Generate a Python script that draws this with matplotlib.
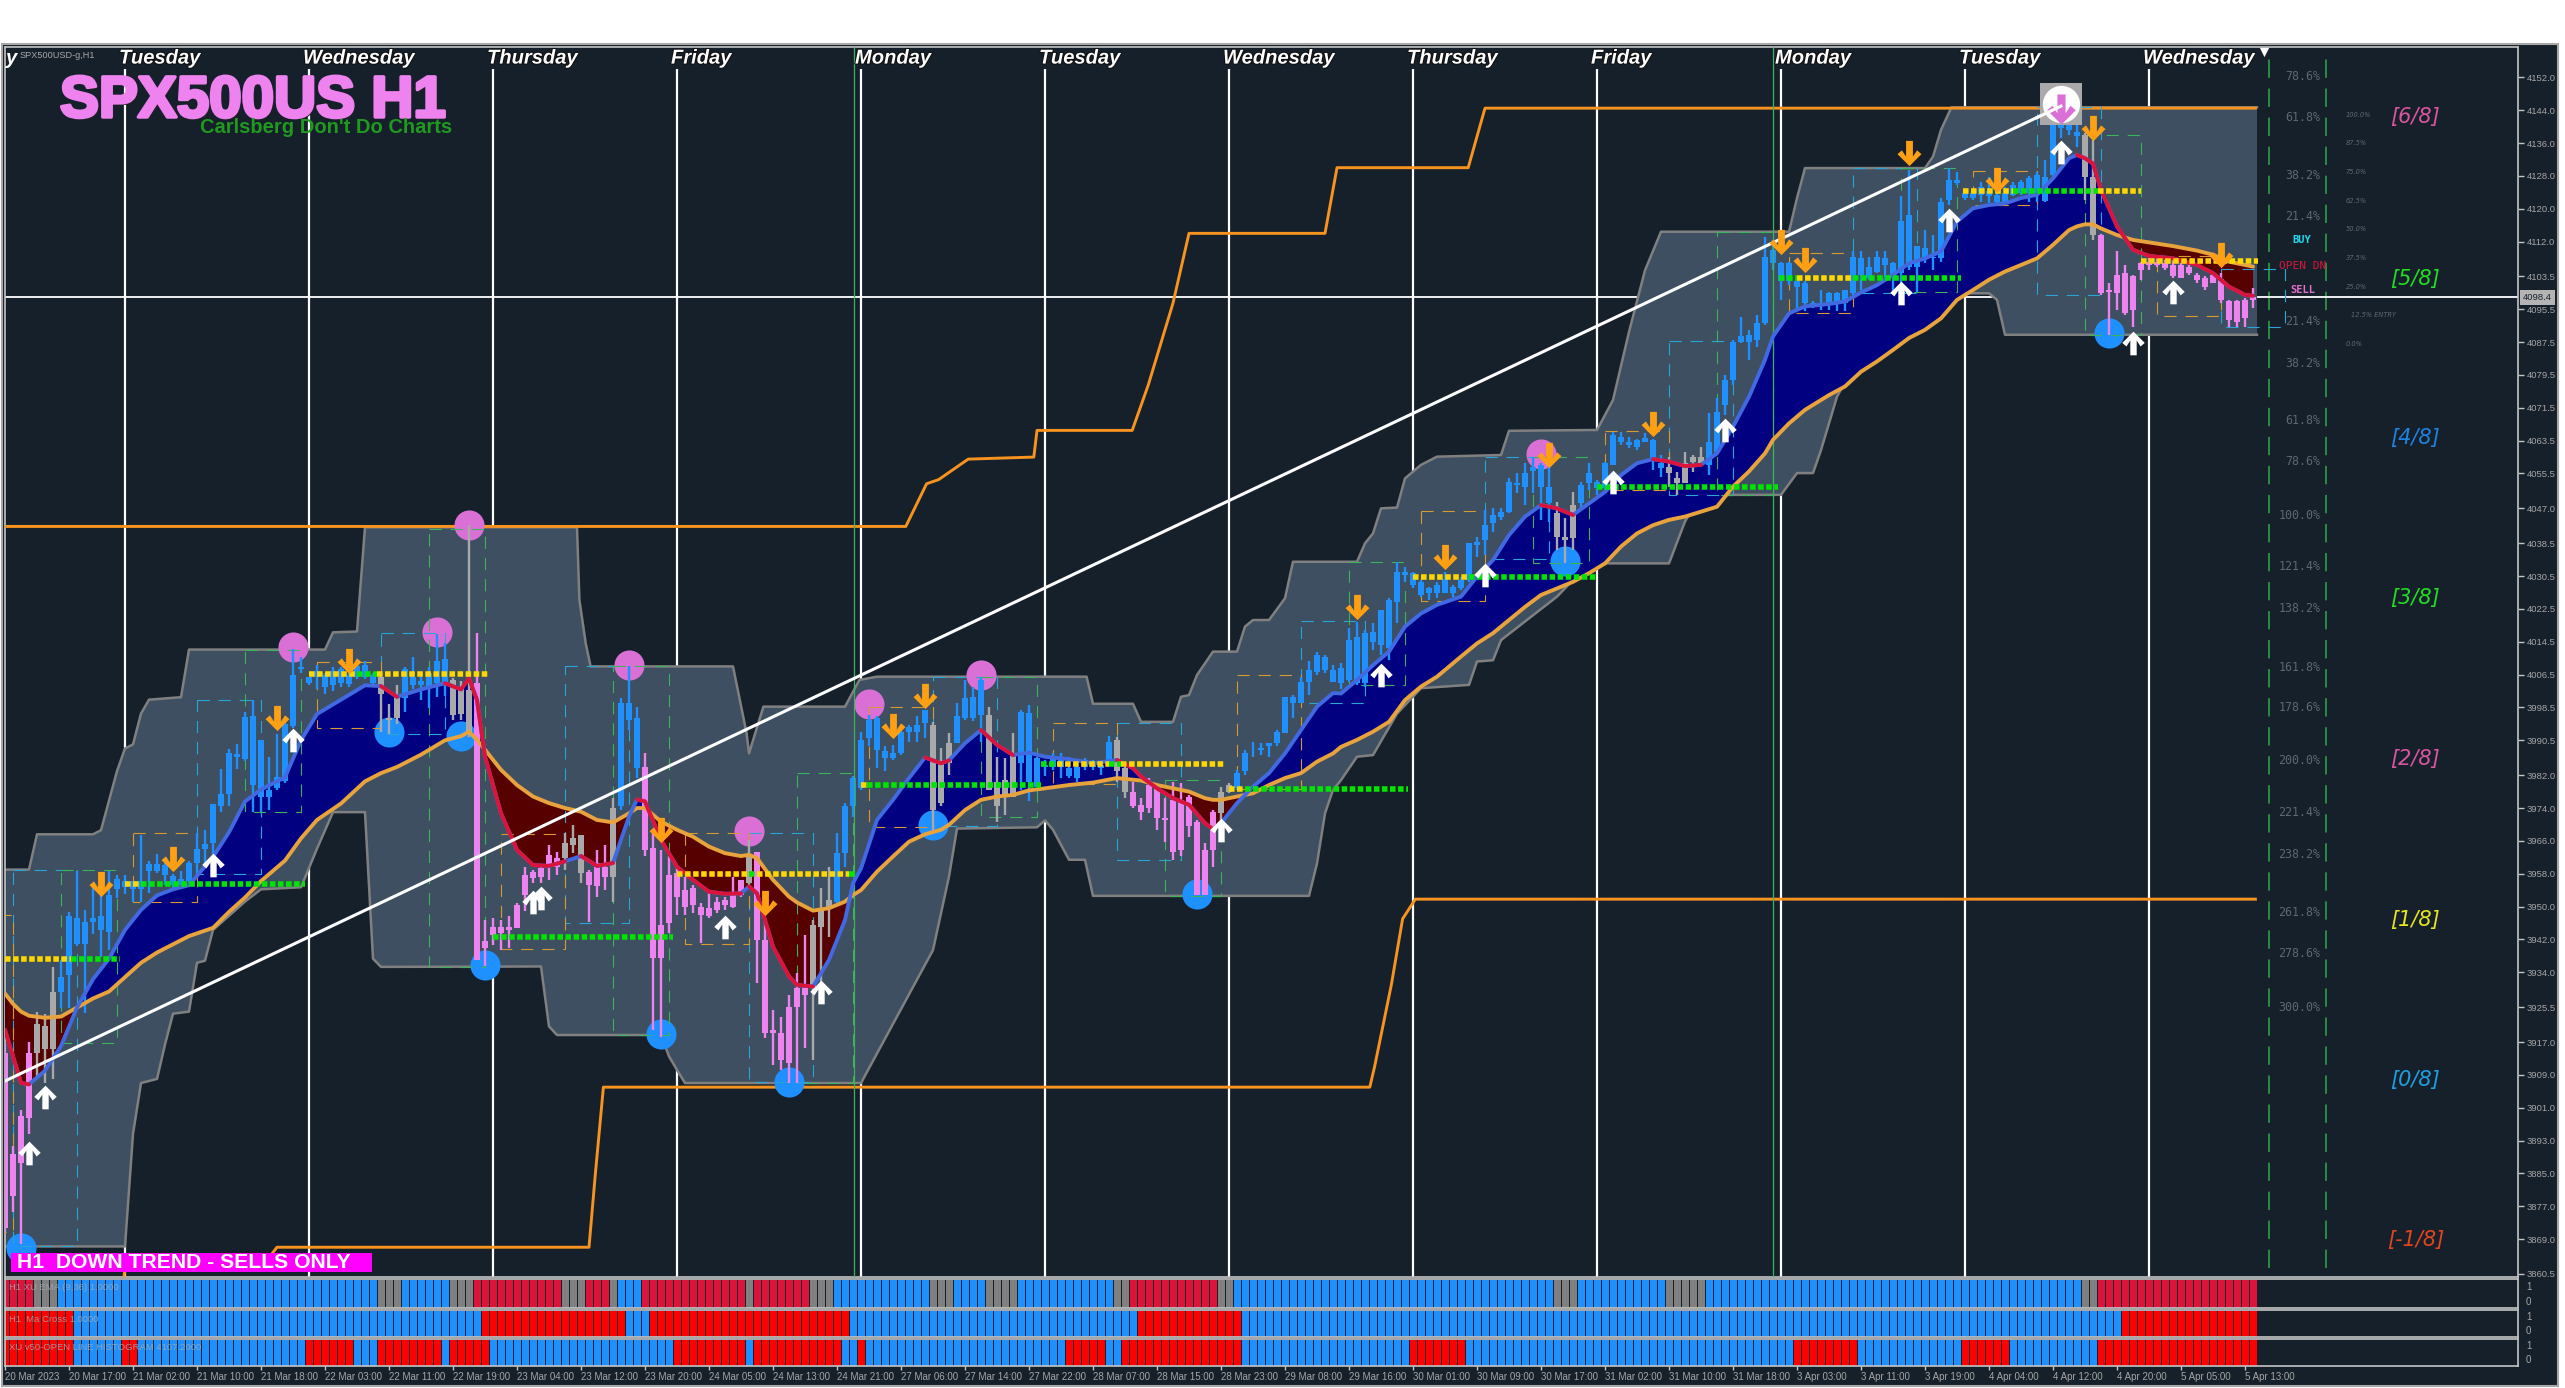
import numpy as np
import matplotlib
matplotlib.use("Agg")
import matplotlib.pyplot as plt
import matplotlib.patheffects as pe
from matplotlib.path import Path

W, H = 2565, 1388
BG = "#16202b"
NARROW = "Liberation Sans"

# candles, bar by bar
candle_high = [
    3916.4,3891.6,3900.5,3917,3924.4,3923.9,3935.3,3937,3948.7,3958.7,
    3949.2,3955.2,3955,3958.7,3957.7,3957.7,3956.2,3967.4,3961,3962.7,
    3960.7,3958,3958.7,3961.2,3968,3968.6,3975,3983.5,3988.5,3989.5,
    3997.4,4000.4,3990.5,3986.5,3992,3995,4012.8,4010.8,4006,4008.9,
    4006.9,4008.4,4008.4,4008.4,4009.4,4009.9,4006.9,4006.9,3999.4,4003.9,
    4008.4,4010.9,4005.9,4008.4,4016.3,4014.3,4005.6,4005,4043,4016.6,
    3946.7,3947.1,3946.7,3947.6,3950.8,3959.7,3958.9,3960.1,3965,3963.4,
    3967.9,3969.9,3967.5,3958.9,3963.8,3965,3976.4,4000.7,4008.5,3998.7,
    3987.3,3967.9,3963.8,3962.2,3960.1,3957.3,3955.3,3950.8,3953.6,3952.4,
    3952.4,3957.3,3956.5,3966.2,3963.4,3946.7,3924.8,3923.2,3928.5,3933.7,
    3943.1,3946.7,3954.5,3959.7,3967.9,3975.2,3981.7,3992.6,3996.7,3996.3,
    3989,3989.4,3993.8,3994.2,3996.3,3997.9,3995,3988.6,3992.2,3999.5,
    4005.2,4003.6,4005.6,3998.7,3986.5,3986.1,3992.2,3997.9,3999.1,3986.5,
    3985.7,3987.3,3987.3,3986.5,3984.5,3986.1,3985.7,3985.3,3991.6,3991.4,
    3984.1,3980.4,3976.4,3981.3,3979.2,3976.4,3980.4,3980,3977.2,3971.1,
    3965.4,3973.5,3979.2,3980.2,3983.3,3988.2,3990.2,3989.8,3989.8,3992.9,
    4001.1,4001.6,4006,4009.7,4012.1,4011.3,4008.9,4009.3,4017.8,4019.4,
    4017.4,4019,4022.2,4025.1,4034,4032.8,4031.6,4029.5,4027.9,4029.1,
    4031.6,4028.3,4030.4,4038.5,4040.1,4046.6,4047,4047,4054.3,4055.5,
    4058,4059.6,4058,4058,4048.6,4044.6,4051.1,4053.5,4058,4053.9,
    4058.4,4065.7,4065.7,4064.5,4064,4065.3,4064,4060,4059.6,4055.9,
    4060.8,4060,4062,4070.2,4073.8,4079.5,4088,4093.7,4090.5,4094.1,
    4113.2,4112.4,4107.1,4107.1,4103,4102.3,4097.4,4100.2,4099.8,4099.6,
    4100.2,4109.6,4109.6,4108.3,4109.6,4109.8,4107.1,4123,4129.5,4110.8,
    4114.8,4113.6,4122.6,4129.9,4129,4124.7,4124.6,4126.6,4127.8,4128.6,
    4125.4,4126.6,4127,4128,4129,4131.9,4141.6,4143.2,4142.4,4141.2,
    4138.4,4136.7,4113.8,4101.8,4109.6,4106.3,4103.9,4107.1,4107.9,4107.9,
    4107.9,4107.9,4106.7,4106.3,4104.3,4103.5,4104.3,4104.3,4097.8,4097.8,4098.2,4100.6,
]
candle_top = [
    3914.4,3889.6,3899,3914.4,3921.4,3921,3929.3,3932.8,3947.7,3947.2,
    3946.2,3947.2,3947.7,3952.7,3956.7,3956.2,3956.2,3956.2,3960.4,3960.4,
    3960.2,3957.4,3956.7,3960.7,3963.9,3965.3,3975,3977.3,3987.5,3987.2,
    3996.1,3996.4,3990.5,3978.5,3981.5,3994.5,4006.4,4008.4,4005.9,4007.4,
    4006.4,4007.4,4007.9,4006.4,4008.7,4008.9,4006.4,4005.9,3996,4001.4,
    4007.9,4005.9,4005,4006.9,4009.9,4010.3,4005.2,4003.6,4002.8,4004.4,
    3941.5,3945.1,3945.1,3945.1,3950.4,3957.7,3958.5,3959.3,3962.6,3961.8,
    3965.4,3966.6,3967.4,3958.5,3960.6,3959.7,3974,3999.5,3999.5,3995.9,
    3984.1,3964.2,3945.5,3957.7,3958.1,3954,3954.5,3950,3949.6,3951.2,
    3951.6,3953.2,3956.5,3962.2,3963.4,3941.9,3920,3919.1,3925.6,3930.1,
    3930.1,3945.5,3949.2,3951.6,3963,3974.4,3981.3,3990.6,3995.5,3995.9,
    3987.8,3987.3,3992.6,3993.8,3994.2,3997.9,3994.2,3984.9,3989.8,3996.3,
    4000.7,4001.1,4005.2,3996.7,3980.4,3980.9,3986.9,3997.5,3997.1,3986.1,
    3984.5,3986.5,3986.5,3983.7,3984.1,3985.7,3985.3,3984.5,3990.2,3990.6,
    3983.7,3978,3974.8,3979.6,3978.8,3971.5,3976,3976,3976.8,3970.7,
    3963.8,3973.1,3978,3979.6,3982.5,3987.3,3987.5,3988.6,3989.8,3992.4,
    4001,4001.1,4004.8,4007.6,4011.3,4010.9,4007.6,4008,4014.9,4015.7,
    4016.6,4017,4022.2,4024.7,4031.6,4031.6,4031.2,4029.1,4027.5,4028.3,
    4029.9,4027.9,4029.6,4038.5,4038.9,4042.9,4045.4,4046,4053.5,4053.1,
    4055.5,4057.2,4057.6,4052.3,4045.8,4040.1,4047.8,4052.7,4055.5,4053.5,
    4058,4064.9,4064.5,4063.2,4063.7,4064.1,4063.7,4058,4057.2,4054.3,
    4058,4059.6,4059.6,4063.2,4070.6,4078.3,4087.6,4088.9,4089.3,4092.1,
    4108.3,4110,4106.7,4106.7,4102.3,4101.8,4097,4097,4099.4,4099.4,
    4100.2,4108.3,4107.9,4105.9,4108.3,4107.9,4106.7,4116.9,4118.5,4110.8,
    4110.4,4108.3,4121.7,4127,4127,4123.8,4123.8,4125.4,4124.2,4123.4,
    4123.8,4125.8,4126.6,4127.4,4128.2,4127.8,4140.4,4141.6,4141.2,4138.8,
    4138,4127.8,4113.6,4100.2,4103.9,4104.3,4103.5,4106.7,4107.1,4107.1,
    4106.7,4106.3,4106.3,4105.9,4103.9,4103.1,4103.9,4103,4097.4,4097.4,4097.8,4098.6,
]
candle_bot = [
    3871.7,3879.6,3887.6,3898.5,3914.4,3915.4,3915.4,3929.3,3933.3,3940.8,
    3940.8,3946.2,3944.3,3943.8,3954.2,3954.7,3954.2,3954.2,3958.7,3958.7,
    3957.7,3955.2,3955.2,3956.2,3960.7,3963.9,3965.6,3974.6,3977.3,3986.5,
    3986,3979.5,3976.6,3976.6,3979,3980.5,3994,4007.9,4004.4,4005.9,
    4003.4,4003.9,4004.4,4004.1,4005.9,4005.9,4004.4,4001.9,3995.4,3995.9,
    4000.9,4003.9,4003.9,4003.4,4004.4,4004.4,3996.7,3997,3992.2,3937,
    3939.8,3943.1,3943.5,3944.3,3944.7,3952.8,3956.9,3957.3,3960.1,3959.7,
    3961.8,3965,3958.1,3955.3,3954.9,3957.3,3957.3,3974.4,3995.5,3983.7,
    3963.8,3937.4,3937.4,3945.9,3952.4,3950,3950.4,3948,3947.6,3949.2,
    3950.4,3950,3952.8,3955.7,3941.9,3919.1,3919.1,3912.6,3911.8,3925.6,
    3928.5,3930.5,3945.1,3950,3951.2,3963,3974.4,3978.8,3991,3988.2,
    3986.1,3986.1,3987.3,3992.6,3992.6,3994.7,3973.5,3975.2,3984.9,3989.8,
    3995.9,3995.9,3996.7,3978.4,3974.4,3976.8,3976.8,3984.9,3980.4,3979.2,
    3984.1,3984.1,3984.1,3981.7,3981.3,3984.1,3984.1,3983.7,3985.3,3982.9,
    3978,3974.4,3973.1,3974,3971.5,3971.1,3963.4,3963.8,3969.5,3952.8,
    3952.8,3963.8,3972.7,3978,3978.8,3982.9,3987.3,3988.2,3989,3989.8,
    3992.2,3999.5,3999.5,4004.8,4007.2,4007.6,4004.8,4004.4,4005.2,4004.4,
    4004.4,4014.5,4013.7,4012.9,4024.3,4030.8,4028.3,4025.9,4026.3,4026.3,
    4026.3,4026.3,4027.5,4029.6,4038.1,4039.3,4043.4,4045,4046,4052.7,
    4052.3,4056,4052.3,4048.2,4040.1,4039.3,4039.7,4048.2,4053.1,4051.9,
    4051.9,4057.6,4063.2,4062.4,4062,4063.2,4058.8,4056.8,4055.5,4053.1,
    4053.1,4058.4,4058,4057.6,4060.8,4072.2,4078.3,4087.6,4087.6,4088,
    4092.1,4106.7,4102.3,4102.3,4101,4097,4096.6,4096.6,4096.6,4097,
    4097,4099.4,4103.9,4103.1,4104.7,4106.3,4103.9,4104.3,4105.9,4105.9,
    4108.3,4107.9,4107.9,4122.1,4126.2,4122.6,4122.6,4123.4,4123,4121.7,
    4121.7,4123.4,4123.8,4123.8,4123.8,4122,4128.2,4139.6,4139.2,4137.6,
    4127.8,4113.6,4099.4,4099.8,4099.4,4094.5,4095.4,4105.1,4106.3,4106.3,
    4105.5,4103.5,4103.1,4104.3,4102.7,4101,4101.8,4097.8,4092.9,4092.5,4093.3,4097.8,
]
candle_low = [
    3870.7,3875.7,3867.7,3894.6,3908,3907,3908,3925.4,3925.4,3940.3,
    3924,3943.3,3937.8,3939.3,3952.2,3953,3951.2,3951.2,3953.2,3958.2,
    3955.2,3954.2,3954.2,3954.7,3957.7,3960,3962.6,3973,3974.6,3983.5,
    3985.5,3973,3973,3973.6,3978.5,3980,3993.5,4006.9,4003.9,4002.9,
    4001.9,4002.4,4003.4,4003.4,4005.4,4005.4,4003.9,3992.5,3992,3994.4,
    3997.4,4002.9,4000.4,3998.4,4001,4001.4,3995.5,3995.5,3991.4,3937,
    3935.4,3940.7,3939.4,3939.8,3944.7,3949,3955.7,3955.7,3956.5,3957.7,
    3958.9,3963,3955.7,3946.3,3952.4,3954.1,3951.2,3973.5,3993,3981.3,
    3962.2,3920,3918.3,3943.5,3948,3948,3948.4,3941.1,3947.2,3948.4,
    3949.2,3949.6,3952.4,3954.9,3931.3,3917.9,3911.4,3910.2,3907,3907,
    3915.5,3912.6,3931.3,3942.7,3950.8,3959.7,3971.9,3978.4,3989,3983.7,
    3982.9,3985.7,3986.9,3990.2,3990.2,3991,3968.7,3974.4,3982,3989.8,
    3995.5,3995.1,3990.2,3978.4,3970.7,3972.3,3976.8,3978.4,3975.6,3979.2,
    3981.7,3983.3,3981.3,3981.3,3980.4,3983.3,3983.3,3982.1,3984.9,3980.4,
    3976.4,3973.9,3971.1,3972.7,3968.7,3965.8,3961.4,3962.2,3967,3952.8,
    3952.8,3959.7,3967.5,3977.6,3978.4,3982,3986.5,3986.9,3986.5,3989,
    3992.2,3995.9,3999.5,4001.6,4006.4,4006.8,4004.8,4003.1,4004.8,4004,
    4003.6,4012.5,4011.3,4010.1,4019,4029.1,4027.5,4025.5,4024.7,4025.1,
    4026.3,4025.5,4027.1,4029.1,4035.2,4035.6,4041.3,4044.2,4045.8,4050.7,
    4047.8,4050.7,4044.2,4043.8,4036.9,4033.6,4036.9,4047,4051.5,4050.3,
    4051.5,4057.6,4062.4,4061.6,4061.2,4063.2,4056.3,4054.7,4052.3,4050.3,
    4053.1,4055.9,4057.6,4055.1,4060.8,4069.8,4077.1,4087.2,4083.2,4086.4,
    4091.7,4105.1,4097.8,4101.4,4095.4,4095,4095.8,4095.4,4095.4,4095,
    4095,4099,4100.2,4102.7,4104.3,4102.7,4099.4,4101.8,4105.1,4099.8,
    4106.7,4105.1,4107.1,4120.9,4125.8,4122.1,4122.1,4121.7,4121.3,4120.9,
    4121.3,4123,4123.4,4121.7,4121.7,4121.7,4127.8,4137.2,4138,4135.1,
    4122.1,4112.4,4099,4089.3,4095.4,4094.1,4091.3,4102.7,4105.1,4105.9,
    4105.1,4103.1,4103.1,4103.9,4101.8,4100.2,4101.8,4097,4091.3,4091.3,4091.3,4095.8,
]

# histogram strips as (state, number of bars); the candles share the first strip's colours
strip1_state = "rgbgbgrgrgbrgrgbgbgbgrgbgbgbgr"
strip1_count = [4,3,40,3,6,3,11,3,3,1,3,13,1,7,3,12,3,4,4,12,2,11,2,40,3,11,5,47,2,20]
strip2_state = "rbrbrbrbr"
strip2_count = [9,51,18,3,25,36,13,110,17]
strip3_state = "rbrbrbrbrbrbrbrbrbrbrbrbrbr"
strip3_count = [9,6,2,21,6,3,8,1,5,23,9,1,11,2,1,25,5,2,15,21,7,41,8,13,6,11,20]
strip_names = ["H1 XU EMA (9,36) 1.0000", "H1  Ma Cross 1.0000", "XU v50-OPEN LINE HISTOGRAM 4107.2000"]

# moving averages
ma_bar = [0,1,2,3,5,7,9,11,13,15,17,19,21,23,26,28,30,32,35,37,39,42,45,47,49,52,55,57,58,59,60,62,64,66,68,70,72,74,76,78,79,80,82,84,86,88,90,92,93,94,96,98,99,101,103,105,106,107,109,111,113,115,117,118,120,122,124,126,128,130,133,136,139,141,142,144,146,148,150,151,152,154,156,158,160,162,164,166,167,169,171,173,175,177,179,182,184,186,188,190,192,194,196,198,200,202,204,206,208,210,212,214,216,218,220,221,223,225,228,230,232,234,236,238,240,242,244,246,248,250,252,254,256,258,259,260,261,262,264,266,268,271,274,276,278,280,281]
ma_fast = [3919.9,3913.5,3907,3906.7,3910,3916,3925.4,3932.3,3937.3,3944.3,3949.2,3952.7,3954.2,3955.2,3962.1,3968.1,3975.6,3978.5,3981.5,3990.5,3996.9,4000.4,4003.9,4003.7,4001.1,4002.9,4004.4,4002.9,4005.6,4000.3,3986.5,3972.7,3963.8,3960.1,3959.9,3961,3962.3,3959.9,3960.6,3971.9,3976.1,3975.6,3966.2,3959.7,3956.5,3953.6,3953.1,3953.2,3954.9,3953.2,3940.2,3933,3930.9,3930.5,3937,3946.7,3955.7,3959.3,3971.1,3976,3981.3,3986.3,3984.9,3985.6,3989.8,3993,3989.4,3986.9,3987.5,3986.5,3985.9,3984.9,3985.7,3983.7,3981.7,3978.8,3976.4,3974.8,3970.3,3968.8,3970.3,3975.2,3979.2,3982.5,3987.3,3993,3998.7,4002,4001.9,4005.2,4008.8,4012.1,4018.2,4021.4,4023.5,4025.5,4030.4,4034.4,4040.5,4045,4047.8,4047,4045.4,4048.2,4051,4055.1,4058,4059,4058.4,4057.3,4057.6,4060.4,4066.9,4074.2,4083.2,4088.9,4094.5,4096.2,4096.8,4097.4,4099.6,4101.4,4103.9,4106.7,4107.9,4109.6,4116.9,4120.1,4120.9,4121.3,4122.6,4123.4,4127.4,4132.3,4133.1,4132.3,4131,4124.6,4115.7,4110,4108.5,4107.9,4106.3,4104.3,4101,4099,4098.8]
ma_slow = [3928.8,3926.3,3924.4,3923.4,3922.9,3923.2,3925.4,3927.6,3929.3,3932.8,3936.3,3938.8,3940.8,3942.8,3944.8,3948.7,3952.2,3956.2,3961.2,3966.6,3971.1,3975.1,3980.5,3982.5,3984,3987,3990.5,3991.5,3992.6,3990.6,3988.2,3983.3,3979.6,3976.8,3975.2,3974,3973.1,3971.1,3970.5,3972.7,3974,3974,3970.7,3968.7,3967,3964.6,3963,3962.3,3962.6,3961.8,3956.5,3952.4,3951,3949,3949.6,3951.2,3952.8,3954,3958.5,3962.2,3965.8,3967.6,3968.7,3969.9,3973.5,3976,3976.8,3977.2,3978.3,3978.8,3979.6,3980.2,3981.3,3980.9,3980.7,3979.6,3978.8,3978,3976.4,3976,3976,3976.8,3977.6,3979.6,3981.3,3982.5,3985.3,3987.3,3988.9,3990.6,3992.6,3995,4000.3,4003.6,4006,4010.9,4014.1,4016.6,4019.8,4023,4025.9,4027.5,4029.1,4031.2,4033.6,4037.7,4040.9,4042.9,4044.2,4045,4046.2,4047.4,4052.3,4056,4060.4,4063.7,4067.7,4071,4074.6,4076.7,4080.3,4082.8,4085.6,4088.5,4090.5,4093.3,4097.8,4100.2,4102.7,4104.7,4106.3,4107.9,4111.2,4114.8,4115.7,4116.2,4116.2,4115.2,4113.6,4112.4,4111.8,4110.9,4109.8,4108.8,4107.1,4106.3,4105.9]
fast_red_from = [0,47,55,72,79,93,115,122,139,192,206,259]
fast_red_to = [3,49,70,76,92,101,118,126,152,196,212,281]

# grey channel behind the candles
upper_bar = [0,3,4,11,12,14,15,16,17,18,22,23,40,41,44,45,71.5,71.8,72.6,73.2,91,92.7,93,94.8,105,106.8,109,135.2,136,141,142,146,147,148,149,151,154,155,156,158,160,161,169,170,171,172,174,175,177,179,187,188,199,201,203,205,207,223,224,225,240,241,242,243.3,281.5]
upper_price = [3959,3959,3967.6,3967.6,3968.6,3983,3988.5,3989.5,3997,4000.4,4001,4012.6,4012.6,4016.8,4017,4042.4,4042.4,4024.7,4014,4008.5,4008.5,3992.2,3987.3,3998.7,3998.7,4005.2,4006,4006,3999.4,3999.4,3995,3995,4001.1,4001.5,4006.4,4012.1,4012.1,4018.2,4019.8,4019.8,4025.1,4034,4034,4038.5,4040.9,4047,4047.2,4054.3,4057.6,4059.6,4060,4065.9,4066.1,4073.4,4090,4105,4114.4,4114.4,4122.6,4129.9,4129.9,4132.7,4139.2,4144.7,4144.7]
lower_bar = [0,15,16,17,19,20,21,23,24,25,26,30,32,37,39,41,45,46,47,67,68,69,82,83,84,85,107,116,118,119,129,130,131,133,135,136,163,164,165,166,167,169,171,174,177,180,183,184,186,187,194,198,208,210,212,222,224,226,227,229,232,236,240,244,248,249,250,281.5]
lower_price = [3867.2,3867.2,3894.6,3907,3908,3916.4,3923.9,3924.4,3936.3,3936.8,3944.3,3951.2,3954.2,3954.7,3964.1,3973,3973,3937.3,3935.3,3935.4,3920.8,3918.7,3918.7,3913.5,3910.2,3907,3907,3939.4,3957.3,3969,3969.3,3971,3968.7,3961.4,3961.4,3952.6,3952.6,3960.5,3972.7,3978.4,3980.8,3986.5,3986.9,3997,4003.2,4003.6,4004,4009.7,4010,4014.9,4025.5,4033.6,4033.6,4043.8,4050.3,4050.3,4055.6,4055.6,4061.2,4074.2,4085,4090,4095,4099.4,4099.4,4097.8,4089.3,4089.3]

# outer orange step lines
orange_hi_bar = [0,112.6,115.2,116.7,120.4,128.6,129,140.9,142.9,146,148,165,166.5,182.9,185,281.3]
orange_hi_price = [4042.6,4042.6,4053,4054,4059,4059.5,4066,4066,4077,4097,4114,4114,4130,4130,4144.5,4144.5]
orange_lo_bar = [14.6,15,32,34,73,73.8,74.8,170.6,171.2,173.3,174.7,176.3,281.3]
orange_lo_price = [3855,3862,3862,3867,3867,3885,3906,3906,3911,3931,3947,3951.8,3951.8]

# thick dotted levels
level_from = [0,8.3,15,17,38,44,46.5,61,84,93,94,105.5,107,107.7,129.5,131.5,138,139.5,153,155,176,183,199,221.8,224,231,244.7,251,261.6,267]
level_to = [8.3,14.4,17,37.5,44,46.5,60.4,83.5,93,94,105.5,106.5,107.7,129.5,131.5,138,139.5,152.5,155,175.4,183,198.9,221.6,224,231,244.5,251,261.6,267,281.6]
level_price = [3937.3,3937.3,3955.5,3955.5,4006.7,4006.7,4006.7,3942.7,3958,3958,3958,3958,3979.6,3979.6,3984.8,3984.8,3984.8,3984.8,3978.6,3978.6,4030.4,4030.4,4052.1,4103.2,4103.2,4103.2,4124.3,4124.3,4124.3,4107.3]
level_kind = "yg" "yg" "ygy" "g" "ygyg" "yg" "gygy" "yg" "yg" "g" "gyg" "ygy" "y"

# dashed range boxes
cyan_left = [1,24,47,70,93,116,139,162,185,208,231,254,277]
cyan_right = [9,32,55,78,101,124,147,170,193,216,239,262,285]
cyan_top = [3959,4000.4,4016.6,4008.5,3967.9,4005.8,3994.8,4019.5,4059.6,4087.8,4129.9,4144.9,4105.3]
cyan_bot = [3867.2,3958,3992,3946,3907.2,3969.5,3961.4,3999.6,4034.6,4050.3,4099.4,4099,4091.2]
green_left = [7,30,53,76,99,122,145,168,191,214,237,260]
green_right = [14,37,60,83,106,129,152,175,198,221,244,267]
green_top = [3959,4012.6,4042,4008.5,3982.5,4005.9,3980.9,4034,4059.6,4114.4,4129.9,4138]
green_bot = [3916.7,3973,3935.3,3918.7,3907,3971.9,3952.6,4004,4033.6,4050.3,4099.8,4089.3]
orange_left = [-7,16,39,62,85,108,131,154,177,200,223,246,269]
orange_right = [1,24,47,70,93,116,139,162,185,208,231,254,277]
orange_top = [3948,3967.9,4009.6,3967.6,3967.9,3998.7,3994.8,4006.4,4046.4,4065.9,4109.2,4129.3,4108.5]
orange_bot = [3870.7,3951,3993.5,3939.7,3940.8,3969.3,3979.8,3978.7,4024.5,4051.5,4094.7,4120.9,4093.9]

# signals
down_bar = [12,21,34,43,82,95,111,115,169,180,193,206,222,225,238,249,261,277]
down_price = [3955.4,3961.6,3996,4009.9,3968.7,3950.8,3994,4001.3,4023,4035.2,4060,4067.5,4112,4107.5,4133.5,4127,4139.6,4108.8]
up_bar = [3,5,26,36,66,67,90,102,152,172,185,201,215,237,243,257,266,271]
up_price = [3890,3903.5,3960,3990.5,3951.2,3952,3945,3929.3,3968.7,4006.4,4030.8,4053.5,4066,4099.4,4117.3,4133.9,4087.2,4099.8]
pink_bar = [36,54,58,78,93,108,122,192]
pink_price = [4013.3,4016.8,4042.9,4008.9,3968.3,3999.4,4006.3,4060.2]
blue_bar = [2,48,57,60,82,98,116,149,195,263]
blue_price = [3866.7,3992.5,3991.5,3935.8,3918.9,3907.2,3969.9,3953,4034.2,4089.7]
peak_bar = 257
peak_price = 4145.4

# trend line and crosshair
trend_bar = [0, 257]
trend_price = [3907.5, 4145]
last_price = 4098.4

# chart furniture
day_bar = [15,38,61,84,107,130,153,176,199,222,245,268]
day_name = ["Tuesday","Wednesday","Thursday","Friday","Monday","Tuesday","Wednesday","Thursday","Friday","Monday","Tuesday","Wednesday"]
session_bar = [106.1, 221]
right_guides = [283, 290.1]
price_ticks = [4152,4144,4136,4128,4120,4112,4103.5,4095.5,4087.5,4079.5,4071.5,4063.5,4055.5,4047,4038.5,4030.5,4022.5,4014.5,4006.5,3998.5,3990.5,3982,3974,3966,3958,3950,3942,3934,3925.5,3917,3909,3901,3893,3885,3877,3869,3860.5]
fib_label = ["78.6%","61.8%","38.2%","21.4%","21.4%","38.2%","61.8%","78.6%","100.0%","121.4%","138.2%","161.8%","178.6%","200.0%","221.4%","238.2%","261.8%","278.6%","300.0%"]
fib_price = [4152.3,4142.3,4128.2,4118.2,4092.6,4082.4,4068.3,4058.4,4045.3,4032.8,4022.7,4008.3,3998.4,3985.7,3973,3962.8,3948.5,3938.5,3925.5]
pct_label = ["100.0%","87.5%","75.0%","62.5%","50.0%","37.5%","25.0%","12.5% ENTRY","0.0%"]
pct_price = [4142.8,4136,4128.9,4121.9,4115,4108,4100.9,4094,4087]
gann_label = ["[6/8]","[5/8]","[4/8]","[3/8]","[2/8]","[1/8]","[0/8]","[-1/8]"]
gann_price = [4142.3,4103,4064.1,4025.2,3986,3946.8,3907.7,3868.7]
gann_color = ["#d9559f","#22dd22","#1e82e0","#22dd22","#d9559f","#e6e620","#1e9fe0","#e0451e"]
date_label = ["20 Mar 2023","20 Mar 17:00","21 Mar 02:00","21 Mar 10:00","21 Mar 18:00","22 Mar 03:00","22 Mar 11:00","22 Mar 19:00","23 Mar 04:00","23 Mar 12:00","23 Mar 20:00","24 Mar 05:00","24 Mar 13:00","24 Mar 21:00","27 Mar 06:00","27 Mar 14:00","27 Mar 22:00","28 Mar 07:00","28 Mar 15:00","28 Mar 23:00","29 Mar 08:00","29 Mar 16:00","30 Mar 01:00","30 Mar 09:00","30 Mar 17:00","31 Mar 02:00","31 Mar 10:00","31 Mar 18:00","3 Apr 03:00","3 Apr 11:00","3 Apr 19:00","4 Apr 04:00","4 Apr 12:00","4 Apr 20:00","5 Apr 05:00","5 Apr 13:00"]


def fx(x):
    return x / W


def fy(y):
    return 1 - y / H


def make_axes(left, top, right, bottom):
    a = fig.add_axes([fx(left), fy(bottom), (right - left) / W, (bottom - top) / H])
    a.set_facecolor(BG)
    a.set_xlim(0, (right - left) / 8)
    for s in a.spines.values():
        s.set_color("#c4c4c4")
        s.set_linewidth(1.2)
    return a


def draw_boxes(lefts, rights, tops, bots, color):
    for l, r, t, b in zip(lefts, rights, tops, bots):
        ax.plot([l, r, r, l, l], [t, t, b, b, t], color=color, lw=0.8,
                ls=(0, (11, 8)), zorder=5.5)


fig = plt.figure(figsize=(W / 100, H / 100), dpi=100, facecolor="white")
fig.patches.append(plt.Rectangle((fx(2), fy(1386)), (2558 - 2) / W, (1386 - 44) / H,
                                 transform=fig.transFigure, facecolor=BG,
                                 edgecolor="#a8a8a8", lw=1.5, zorder=-1))

ax = make_axes(5, 47, 2518, 1277)
ax.set_ylim(3859.75, 4159.4)
ax.set_xticks([])
ax.yaxis.tick_right()
ax.set_yticks(price_ticks)
ax.set_yticklabels([f"{t:.1f}" for t in price_ticks], family=NARROW, fontsize=6.8, color="#a6a6a6")
ax.tick_params(axis="y", length=4, width=1, color="#c4c4c4", pad=2)

# grid furniture
ax.vlines(day_bar, 3859, 4154, color="white", lw=1.6, zorder=1)
ax.vlines(session_bar, 3859, 4159.4, color="#3cb45a", lw=0.9, zorder=6.5)
ax.vlines(right_guides, 3862, 4157, color="#2faa45", lw=1.1, ls=(0, (12, 7)), zorder=1)
ax.axhline(last_price, color="white", lw=1.3, zorder=1)

# channel
chan_x = np.r_[upper_bar, lower_bar[::-1]]
chan_y = np.r_[upper_price, lower_price[::-1]]
ax.fill(chan_x, chan_y, color="#3d4f60", lw=0, zorder=2)
ax.plot(upper_bar, upper_price, color="#808080", lw=1.8, zorder=2.5)
ax.plot(lower_bar, lower_price, color="#808080", lw=1.8, zorder=2.5)

ax.plot(orange_hi_bar, orange_hi_price, color="#f7931e", lw=2.1, zorder=3)
ax.plot(orange_lo_bar, orange_lo_price, color="#f7931e", lw=2.1, zorder=3)

# band between the averages
fast = np.array(ma_fast)
slow = np.array(ma_slow)
ax.fill_between(ma_bar, fast, slow, where=fast >= slow, interpolate=True, color="#000080", lw=0, zorder=4)
ax.fill_between(ma_bar, fast, slow, where=fast <= slow, interpolate=True, color="#560000", lw=0, zorder=4)

draw_boxes(cyan_left, cyan_right, cyan_top, cyan_bot, "#2aa5d8")
draw_boxes(green_left, green_right, green_top, green_bot, "#3cb45a")
draw_boxes(orange_left, orange_right, orange_top, orange_bot, "#d89a30")

ax.scatter(pink_bar, pink_price, s=470, color="#da70d6", lw=0, zorder=5)
ax.scatter(blue_bar, blue_price, s=470, color="#1e90ff", lw=0, zorder=5)

# candles
bars = np.arange(len(candle_high))
kind_color = {"r": "#ee82ee", "g": "#a9a9a9", "b": "#1e90ff"}
candle_kind = np.repeat(list(strip1_state), strip1_count)
candle_color = [kind_color[k] for k in candle_kind]
ax.vlines(bars, candle_low, candle_high, color=candle_color, lw=1.7, zorder=6)
ax.bar(bars, np.array(candle_top) - np.array(candle_bot), bottom=candle_bot, width=0.66,
       color=candle_color, lw=0, zorder=6)

# averages on top
ax.plot(ma_bar, ma_slow, color="#e8a33d", lw=2.8, zorder=7, solid_capstyle="round")
ax.plot(ma_bar, ma_fast, color="#4169e1", lw=2.8, zorder=7, solid_capstyle="round")
ma_arr = np.array(ma_bar)
for a, b in zip(fast_red_from, fast_red_to):
    keep = (ma_arr >= a) & (ma_arr <= b)
    ax.plot(ma_arr[keep], fast[keep], color="#dc143c", lw=2.8, zorder=7.1, solid_capstyle="round")

ax.plot(trend_bar, trend_price, color="white", lw=2.2, zorder=7.5)

# dotted levels
level_color = {"y": "#ffd700", "g": "#00e600"}
for a, b, p, k in zip(level_from, level_to, level_price, level_kind):
    ax.plot([a, b], [p, p], color=level_color[k], lw=4, ls=(0, (1, 0.45)),
            dash_capstyle="butt", zorder=8)

# arrows
up_shape = Path([(0, 1), (0.95, 0.05), (0.6, -0.25), (0.27, 0.25), (0.27, -1), (-0.27, -1),
                 (-0.27, 0.25), (-0.6, -0.25), (-0.95, 0.05), (0, 1)], closed=True)
down_shape = Path(up_shape.vertices * [1, -1], closed=True)
ax.scatter(up_bar, up_price, marker=up_shape, s=290, color="white", lw=0, zorder=9)
ax.scatter(down_bar, down_price, marker=down_shape, s=330, color="#ffa014", lw=0, zorder=9)

# last swing high marker
ax.scatter([peak_bar], [peak_price], marker="s", s=950, color="#a9a9a9", lw=0, zorder=9.1)
ax.scatter([peak_bar], [peak_price], s=720, color="white", lw=0, zorder=9.2)
ax.scatter([peak_bar], [peak_price - 1], marker=down_shape, s=470, color="#da70d6", lw=0, zorder=9.3)
ax.plot([peak_bar - 3, peak_bar], [trend_price[1] - 2.8, trend_price[1]], color="white", lw=2.2, zorder=9.4)

# right column labels
for lab, p in zip(fib_label, fib_price):
    ax.text(289.4, p, lab, family="DejaVu Sans Mono", fontsize=8.4, color="#5d6873", ha="right", va="center", zorder=3)
for lab, p in zip(pct_label, pct_price):
    off = 292.6 if "ENTRY" not in lab else 293.2
    ax.text(off, p, lab, family="DejaVu Sans", style="italic", fontsize=4.8, color="#5d6873", ha="left", va="center")
for lab, p, c in zip(gann_label, gann_price, gann_color):
    ax.text(301.3, p, lab, family="DejaVu Sans", style="italic", fontsize=15, color=c, ha="center", va="center")
ax.text(287.1, 4112.3, "BUY", family="DejaVu Sans Mono", weight="bold", fontsize=7.5, color="#22d8ea", ha="center", va="center", zorder=10)
ax.text(287.2, 4106.1, "OPEN DN", family="DejaVu Sans Mono", fontsize=8, color="#dc143c", ha="center", va="center", zorder=10)
ax.text(287.2, 4100.3, "SELL", family="DejaVu Sans Mono", weight="bold", fontsize=7.5, color="#e070c8", ha="center", va="center", zorder=10)
ax.scatter([282.4], [4158.2], marker="v", s=45, color="white", lw=0, zorder=10)

ax.annotate(f"{last_price:.1f}", xy=(1, last_price), xycoords=("axes fraction", "data"),
            xytext=(3.5, 0), textcoords="offset points", family=NARROW, fontsize=6.8,
            color="#16202b", va="center", ha="left", zorder=12, annotation_clip=False,
            bbox=dict(boxstyle="square,pad=0.35", fc="#b4b4b4", ec="none"))

# day names and titles
shadow = [pe.withStroke(linewidth=1.5, foreground="#101010")]
for b, name in zip(day_bar, day_name):
    ax.text(b - 0.75, 4156.7, name, family="Liberation Sans", weight="bold", style="italic",
            fontsize=14.5, color="white", ha="left", va="center", zorder=10, path_effects=shadow)
ax.text(0.05, 4156.7, "y", family="Liberation Sans", weight="bold", style="italic",
        fontsize=14.5, color="white", ha="left", va="center", zorder=10)
fig.text(fx(20), fy(56), "SPX500USD-g,H1", family=NARROW, fontsize=6.6, color="#a8a8a8", ha="left", va="center", zorder=10)
fat = [pe.withStroke(linewidth=2.5, foreground="#ee82ee")]
fig.text(fx(62), fy(119), "SPX500US H1", family="Liberation Sans", weight="bold", fontsize=42,
         color="#202020", ha="left", va="baseline", zorder=10)
fig.text(fx(60), fy(117), "SPX500US H1", family="Liberation Sans", weight="bold", fontsize=42,
         color="#ee82ee", ha="left", va="baseline", zorder=10, path_effects=fat)
fig.text(fx(452), fy(133), "Carlsberg Don't Do Charts", family="Liberation Sans", weight="bold",
         fontsize=14.5, color="#1f9a1f", ha="right", va="baseline", zorder=10)

# trend banner
fig.patches.append(plt.Rectangle((fx(11), fy(1272)), (372 - 11) / W, (1272 - 1253) / H,
                                 transform=fig.transFigure, facecolor="#ff00ff", lw=0, zorder=15))
fig.text(fx(17), fy(1262.5), "H1  DOWN TREND - SELLS ONLY", family="Liberation Sans", weight="bold",
         fontsize=15.2, color="white", ha="left", va="center", zorder=20)

# histogram strips
strip_box = [(1279, 1308), (1310, 1337), (1339, 1366)]
strip_text_y = [1288, 1319, 1348]
strip_ticks = [(1287, 1302), (1317, 1331), (1346, 1360)]
strip_colors = [
    {"b": "#1e90ff", "r": "#dc143c", "g": "#808080"},
    {"b": "#1e90ff", "r": "#ff0000"},
    {"b": "#1e90ff", "r": "#ff0000"},
]
strip_data = [(strip1_state, strip1_count), (strip2_state, strip2_count), (strip3_state, strip3_count)]
for n, (state, count) in enumerate(strip_data):
    top, bot = strip_box[n]
    st = make_axes(5, top, 2518, bot)
    st.set_ylim(0, 1)
    colors = [strip_colors[n][k] for k in np.repeat(list(state), count)]
    st.bar(np.arange(len(colors)), 1, width=1, bottom=0, color=colors,
           edgecolor=BG, lw=0.7, align="center")
    st.set_yticks([])
    st.set_xticks([])
    fig.text(fx(9), fy(strip_text_y[n]), strip_names[n], family=NARROW, fontsize=6.8,
             color="#a0a8b0", alpha=0.85, ha="left", va="center", zorder=10)
    fig.text(fx(2526), fy(strip_ticks[n][0]), "1", family=NARROW, fontsize=7, color="#a6a6a6", va="center")
    fig.text(fx(2526), fy(strip_ticks[n][1]), "0", family=NARROW, fontsize=7, color="#a6a6a6", va="center")

st.set_xticks(np.arange(len(date_label)) * 8)
st.set_xticklabels(date_label, family=NARROW, fontsize=7, color="#a6a6a6", ha="left")
st.tick_params(axis="x", length=3, width=1, color="#c4c4c4", pad=1.5)

fig.savefig("out.png", dpi=100, facecolor="white")
